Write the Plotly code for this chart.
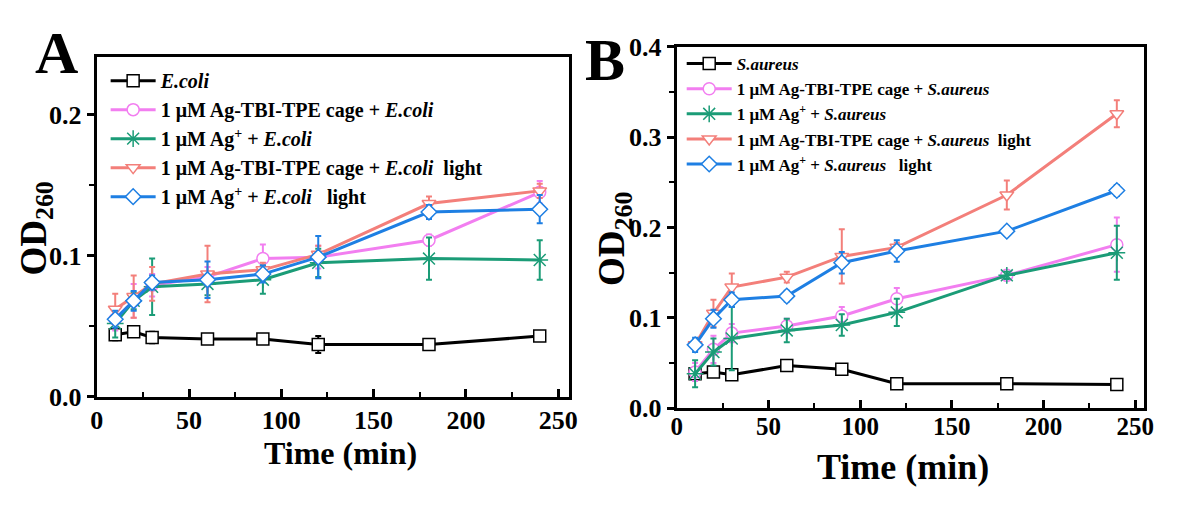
import plotly.graph_objects as go

time_min = [10, 20, 30, 60, 90, 120, 180, 240]

# Panel A (E. coli)
a_names = ["<i>E.coli</i>",
           "1 μM Ag-TBI-TPE cage + <i>E.coli</i>",
           "1 μM Ag<sup>+</sup> + <i>E.coli</i>",
           "1 μM Ag-TBI-TPE cage + <i>E.coli</i>  light",
           "1 μM Ag<sup>+</sup> + <i>E.coli</i>   light"]
a_ecoli = [0.044, 0.046, 0.042, 0.041, 0.041, 0.037, 0.037, 0.043]
a_ecoli_err = [0.004, 0.003, 0.004, 0.002, 0.003, 0.006, 0.003, 0.003]
a_cage = [0.055, 0.068, 0.079, 0.085, 0.098, 0.099, 0.111, 0.145]
a_cage_err = [0.008, 0.012, 0.008, 0.007, 0.010, 0.008, 0.004, 0.008]
a_ag = [0.052, 0.068, 0.078, 0.080, 0.083, 0.095, 0.098, 0.097]
a_ag_err = [0.010, 0.006, 0.020, 0.008, 0.010, 0.010, 0.015, 0.014]
a_cage_light = [0.062, 0.071, 0.080, 0.087, 0.090, 0.101, 0.137, 0.146]
a_cage_light_err = [0.011, 0.015, 0.012, 0.020, 0.005, 0.006, 0.005, 0.005]
a_ag_light = [0.055, 0.068, 0.081, 0.083, 0.087, 0.099, 0.131, 0.133]
a_ag_light_err = [0.006, 0.007, 0.005, 0.013, 0.006, 0.015, 0.005, 0.010]

# Panel B (S. aureus)
b_names = ["<i>S.aureus</i>",
           "1 μM Ag-TBI-TPE cage + <i>S.aureus</i>",
           "1 μM Ag<sup>+</sup> + <i>S.aureus</i>",
           "1 μM Ag-TBI-TPE cage + <i>S.aureus</i>  light",
           "1 μM Ag<sup>+</sup> + <i>S.aureus</i>   light"]
b_sa = [0.038, 0.040, 0.037, 0.047, 0.043, 0.027, 0.027, 0.026]
b_sa_err = [0.004, 0.003, 0.003, 0.003, 0.003, 0.003, 0.003, 0.003]
b_cage = [0.040, 0.065, 0.083, 0.091, 0.102, 0.121, 0.147, 0.181]
b_cage_err = [0.010, 0.015, 0.010, 0.008, 0.010, 0.012, 0.005, 0.030]
b_ag = [0.038, 0.062, 0.077, 0.086, 0.092, 0.106, 0.147, 0.172]
b_ag_err = [0.015, 0.015, 0.035, 0.013, 0.012, 0.015, 0.004, 0.030]
b_cage_light = [0.070, 0.105, 0.134, 0.145, 0.168, 0.178, 0.236, 0.326]
b_cage_light_err = [0.006, 0.015, 0.015, 0.006, 0.030, 0.005, 0.016, 0.015]
b_ag_light = [0.070, 0.099, 0.120, 0.124, 0.161, 0.174, 0.196, 0.241]
b_ag_light_err = [0.008, 0.010, 0.008, 0.006, 0.012, 0.012, 0.005, 0.006]

colors = ["#000000", "#F27EF0", "#1B9C77", "#F37F7A", "#1E7FE3"]
symbols = ["square", "circle", "asterisk-open", "triangle-down", "diamond"]
FONT = "Liberation Serif"

fig = go.Figure()

def add_series(names, ys, errs, xaxis, yaxis, legend, tag):
    for i, (nm, y, e) in enumerate(zip(names, ys, errs)):
        c = colors[i]
        is_ast = symbols[i].startswith("asterisk")
        fig.add_trace(go.Scatter(
            x=time_min, y=y, name=nm, mode="lines+markers",
            xaxis=xaxis, yaxis=yaxis, legend=legend, legendgroup=f"{tag}{i}",
            line=dict(color=c, width=3),
            marker=dict(symbol=symbols[i], size=(14 if is_ast else 12),
                        color=(c if is_ast else "white"),
                        line=dict(color=c, width=1.5)),
            error_y=dict(type="data", array=e, color=c, thickness=2, width=3),
        ))

add_series(a_names, [a_ecoli, a_cage, a_ag, a_cage_light, a_ag_light],
           [a_ecoli_err, a_cage_err, a_ag_err, a_cage_light_err, a_ag_light_err],
           "x", "y", "legend", "a")
add_series(b_names, [b_sa, b_cage, b_ag, b_cage_light, b_ag_light],
           [b_sa_err, b_cage_err, b_ag_err, b_cage_light_err, b_ag_light_err],
           "x2", "y2", "legend2", "b")

W, H = 1177, 506
def px(x): return x / W
def py(y): return 1 - y / H

def tfont(s): return dict(family=FONT, size=s, color="black", weight="bold")

def xax(fs, standoff):
    return dict(range=[0, 256], dtick=50, tick0=0, showgrid=False, zeroline=False,
                showline=True, linecolor="black", linewidth=3, mirror=True,
                ticks="inside", ticklen=8, tickwidth=2.5, tickcolor="black",
                tickfont=tfont(fs), ticklabelstandoff=standoff,
                minor=dict(dtick=25, ticks="inside", ticklen=5, tickwidth=2, tickcolor="black"))

def yax(fs):
    return dict(dtick=0.1, tick0=0, tickformat=".1f", showgrid=False, zeroline=False,
                showline=True, linecolor="black", linewidth=3, mirror=True,
                ticks="outside", ticklen=7, tickwidth=2.5, tickcolor="black",
                tickfont=tfont(fs),
                minor=dict(dtick=0.05, ticks="outside", ticklen=5, tickwidth=2, tickcolor="black"))

fig.update_layout(
    width=W, height=H, margin=dict(l=0, r=0, t=0, b=0),
    paper_bgcolor="white", plot_bgcolor="white", showlegend=True,
    xaxis=dict(xax(26, -2), domain=[px(91), px(570)], anchor="y"),
    yaxis=dict(yax(26), domain=[py(406), py(46)], range=[0, 0.2407], anchor="x"),
    xaxis2=dict(xax(25, -6), domain=[px(679), px(1153)], range=[0, 255], anchor="y2"),
    yaxis2=dict(yax(26), domain=[py(418), py(35)], range=[0, 0.4], anchor="x2"),
    legend=dict(x=px(100), y=py(50), xanchor="left", yanchor="top",
                bgcolor="rgba(0,0,0,0)", itemwidth=45, tracegroupgap=0,
                traceorder="grouped",
                font=dict(family=FONT, size=20, color="black", weight="bold")),
    legend2=dict(x=px(684), y=py(34), xanchor="left", yanchor="top",
                 bgcolor="rgba(0,0,0,0)", itemwidth=45, tracegroupgap=0,
                 traceorder="grouped",
                 font=dict(family=FONT, size=17, color="black", weight="bold")),
)

annos = [
    dict(text="A", x=px(50), y=py(41), font=tfont(60)),
    dict(text="B", x=px(606), y=py(49), font=tfont(60)),
    dict(text="Time (min)", x=px(338), y=py(466), font=tfont(32)),
    dict(text="Time (min)", x=px(908), y=py(481), font=tfont(36)),
    dict(text="OD<sub>260</sub>", x=px(30), y=py(228), textangle=-90, font=tfont(37)),
    dict(text="OD<sub>260</sub>", x=px(616), y=py(239), textangle=-90, font=tfont(37)),
]
for a in annos:
    fig.add_annotation(xref="paper", yref="paper", showarrow=False,
                       xanchor="center", yanchor="middle", **a)

fig.write_html("out.html", config={"displayModeBar": False},
               post_script="document.body.style.margin='0';")
